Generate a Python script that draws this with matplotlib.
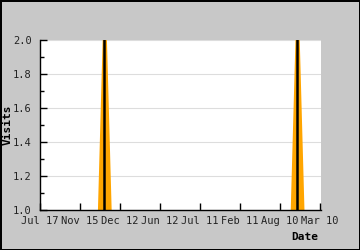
import matplotlib.pyplot as plt
import numpy as np

# x tick labels
date_labels = ["Jul 17", "Nov 15", "Dec 12", "Jun 12", "Jul 11", "Feb 11", "Aug 10", "Mar 10"]
# visits series on the tick index scale
x_pos = [0.0, 1.33, 1.62, 1.91, 6.15, 6.44, 6.73, 7.0]
visits = [0.0, 0.0, 2.45, 0.0, 0.0, 2.45, 0.0, 0.0]
spikes = [1.61, 6.43]

fig = plt.figure(figsize=(3.6, 2.5), dpi=100, facecolor="#c8c8c8",
                 edgecolor="black", linewidth=1)
ax = fig.add_axes([40 / 360, 40 / 250, 281 / 360, 170 / 250])
ax.set_facecolor("white")

ax.fill_between(x_pos, visits, 0, color="orange", linewidth=0)
ax.vlines(spikes, 0, 2.45, color="black", linewidth=1.8)

ax.set_xlim(0, 7.025)
ax.set_ylim(1.0, 2.0)

ax.set_xticks(range(len(date_labels)))
ax.set_xticklabels(date_labels)
ax.set_yticks([1.0, 1.2, 1.4, 1.6, 1.8, 2.0])
ax.set_yticklabels(["1.0", "1.2", "1.4", "1.6", "1.8", "2.0"])
ax.set_yticks(np.arange(1.1, 2.0, 0.2), minor=True)

ax.grid(axis="y", color="#dddddd", linewidth=0.8)
ax.set_axisbelow(True)

ax.spines["top"].set_visible(False)
ax.spines["right"].set_visible(False)
ax.spines["left"].set_linewidth(1)
ax.spines["bottom"].set_linewidth(1)

ax.tick_params(axis="both", which="major", direction="in", length=5, width=1,
               labelsize=7.5, colors="black", labelcolor="#222222")
ax.tick_params(axis="y", which="minor", direction="in", length=3, width=1)
ax.tick_params(axis="x", pad=4)
ax.tick_params(axis="y", pad=6)
for lab in ax.get_xticklabels() + ax.get_yticklabels():
    lab.set_family("DejaVu Sans Mono")

fig.text(318 / 360, 1 - 237 / 250, "Date", ha="right", va="center",
         family="DejaVu Sans Mono", fontweight="bold", fontsize=8)
fig.text(8 / 360, 1 - 125 / 250, "Visits", ha="center", va="center", rotation=90,
         family="DejaVu Sans Mono", fontweight="bold", fontsize=8)

fig.savefig("out.png", dpi=100, facecolor=fig.get_facecolor(), edgecolor="black")
